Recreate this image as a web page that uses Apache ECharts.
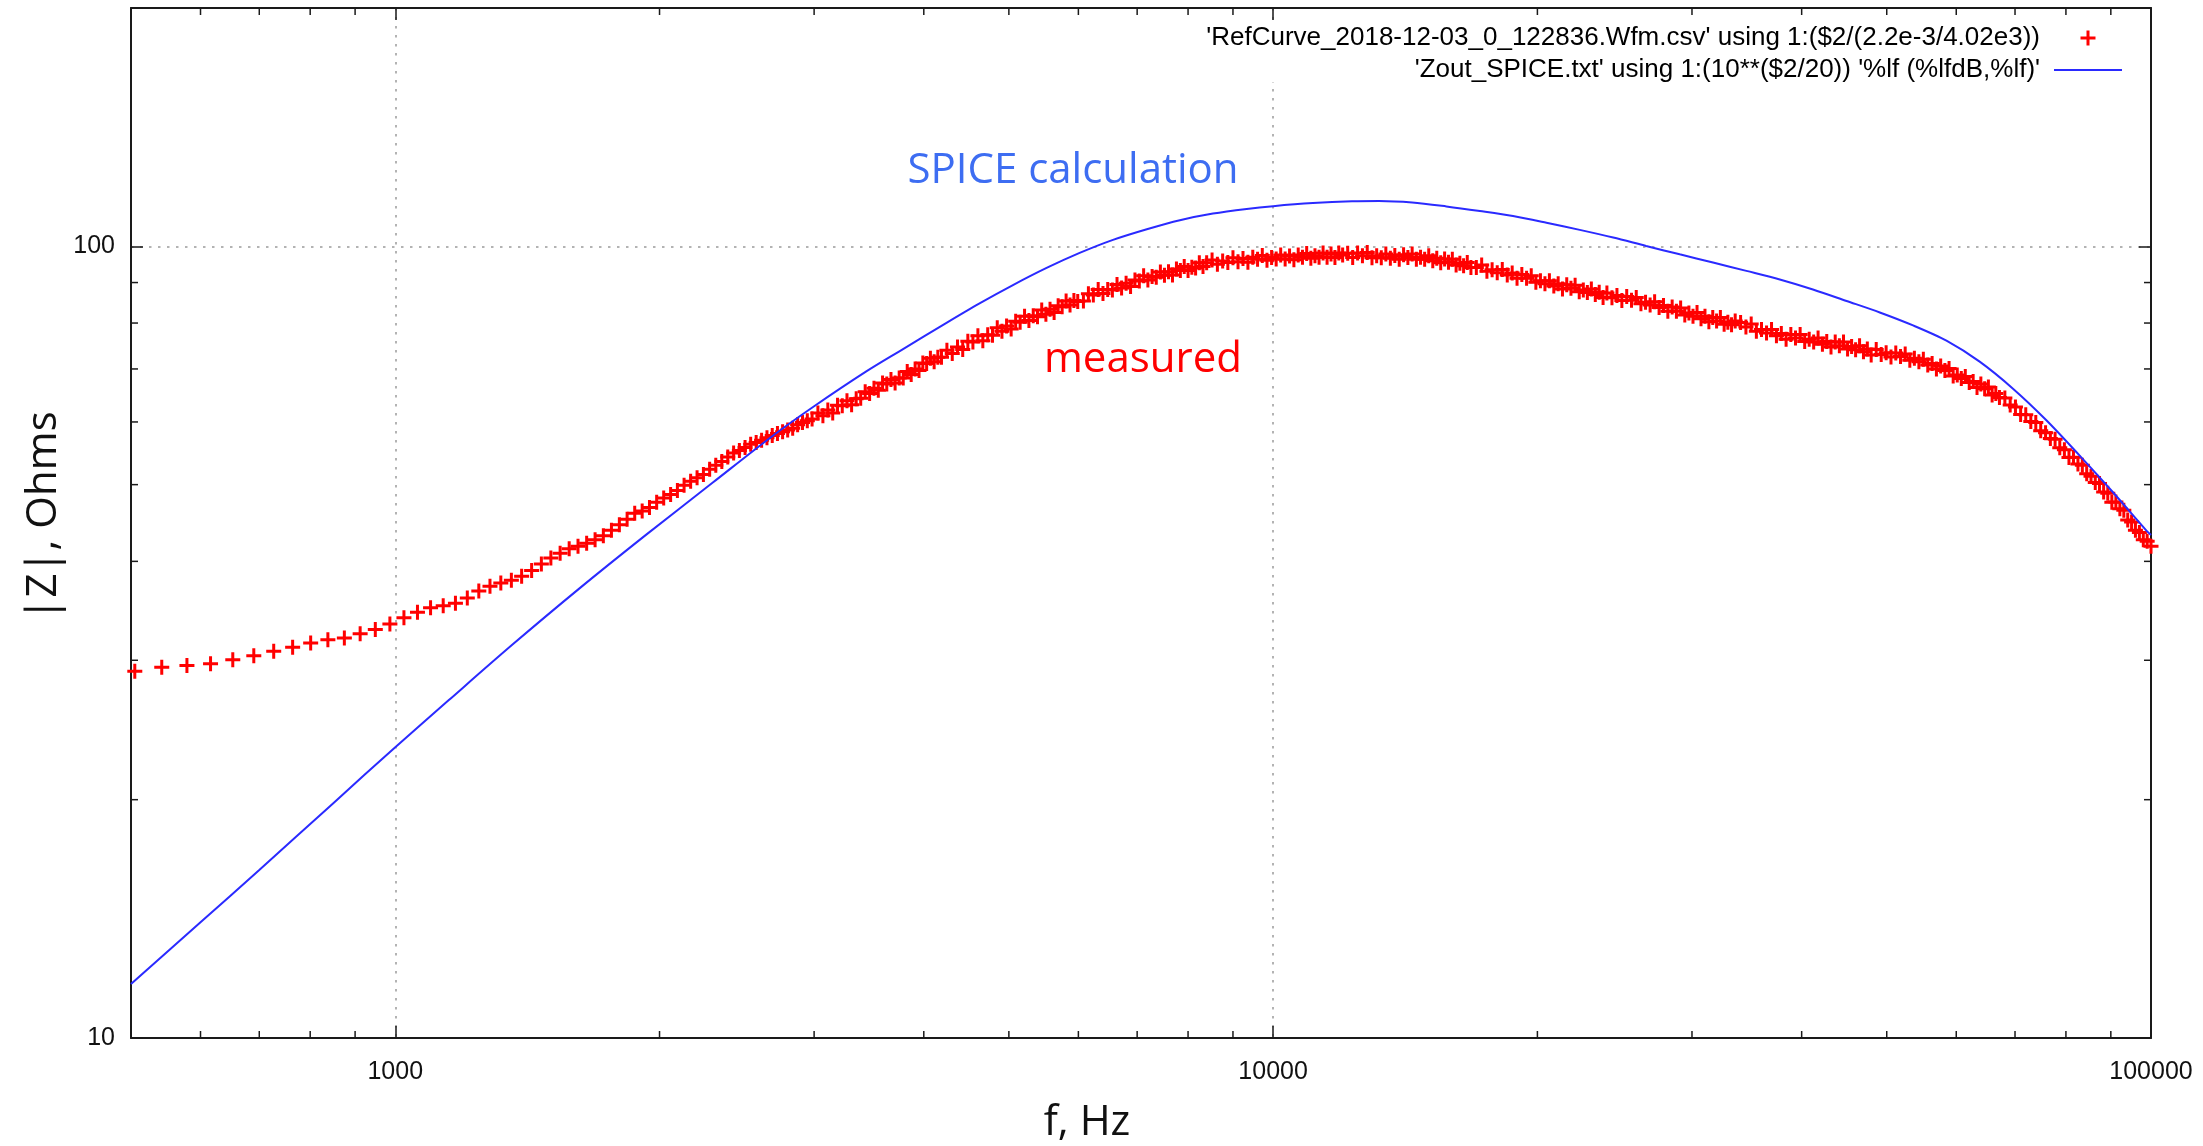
<!DOCTYPE html>
<html><head><meta charset="utf-8">
<script src="https://cdn.jsdelivr.net/npm/echarts@6/dist/echarts.min.js"></script>
<style>html,body{margin:0;padding:0;background:#fff}#c{width:2203px;height:1146px}</style>
</head><body><div id="c"></div>
<script>
const legendLabels = ["'RefCurve_2018-12-03_0_122836.Wfm.csv' using 1:($2/(2.2e-3/4.02e3))", "'Zout_SPICE.txt' using 1:(10**($2/20)) '%lf (%lfdB,%lf)'"];
const xTitle = 'f, Hz';
const yTitle = '|Z|, Ohms';
const notes = ['SPICE calculation', 'measured'];
const xMajorTicks = [1000, 10000, 100000];
const xMinorTicks = [600,700,800,900,2000,3000,4000,5000,6000,7000,8000,9000,20000,30000,40000,50000,60000,70000,80000,90000];
const yMajorTicks = [10, 100];
const yMinorTicks = [20,30,40,50,60,70,80,90];
const xRange = [500, 100000];
const yRange = [10, 200];

// measured |Z| (red crosses), [f Hz, Ohms]
const measured = [
[505,29.05],[542,29.4],[579,29.55],[616,29.7],[653,30.05],[690,30.4],[727,30.8],[764,31.15],[801,31.55],[838,31.85],
[875,32.0],[912,32.4],[949,32.8],[986,33.35],[1023,33.95],[1060,34.5],[1097,34.95],[1134,35.15],[1171,35.4],[1208,35.95],
[1245,36.7],[1282,37.2],[1319,37.55],[1356,37.85],[1393,38.3],[1430,38.95],[1467,39.7],[1504,40.4],[1541,40.95],[1578,41.5],
[1615,41.8],[1652,42.15],[1689,42.6],[1726,43.1],[1763,43.8],[1800,44.5],[1837,45.2],[1874,46.0],[1911,46.3],[1948,46.8],
[1985,47.5],[2022,48.1],[2059,48.6],[2096,49.15],[2133,49.9],[2170,50.5],[2207,51.0],[2244,51.5],[2281,52.3],[2318,52.9],
[2355,53.5],[2392,54.2],[2429,54.8],[2466,55.2],[2503,55.7],[2540,56.25],[2577,56.5],[2614,56.9],[2651,57.3],[2688,57.7],
[2725,58.0],[2762,58.3],[2799,58.6],[2836,58.9],[2873,59.5],[2910,59.9],[2947,60.2],[2984,60.5],
[3030,61.6],[3070,61.1],[3110,62.1],[3150,61.6],[3190,63.0],[3230,62.9],[3270,63.8],[3310,63.1],[3350,64.2],[3390,64.3],
[3430,65.5],[3470,65.2],[3510,66.2],[3550,65.8],[3590,67.2],[3630,67.0],[3670,67.9],[3710,67.2],[3750,68.2],[3790,68.2],
[3830,69.5],[3870,68.9],[3910,70.0],[3950,69.7],[3990,71.2],[4030,71.1],[4070,72.2],[4110,71.5],[4150,72.4],[4190,72.4],
[4250,73.9],[4310,73.2],[4370,74.6],[4430,74.1],[4490,75.9],[4550,75.7],[4610,77.1],[4670,76.0],[4730,77.3],[4790,77.2],
[4850,78.9],[4910,78.1],[4970,79.3],[5030,78.6],[5090,80.4],[5150,80.2],[5210,81.6],[5270,80.6],[5330,81.7],[5390,81.5],
[5450,83.1],[5510,82.1],[5570,83.3],[5630,82.5],[5690,84.1],[5750,83.9],[5810,85.3],[5870,84.3],[5930,85.4],[5990,85.2],
[6080,85.3],[6160,87.1],[6240,86.8],[6320,88.2],[6400,87.2],[6480,88.2],[6560,88.1],[6640,89.5],[6720,88.6],[6800,89.8],
[6880,89.0],[6960,90.7],[7040,90.4],[7120,91.8],[7200,90.7],[7280,91.6],[7360,91.4],[7440,92.8],[7520,91.9],[7600,92.9],
[7680,92.0],[7760,93.6],[7840,93.2],[7920,94.3],[8000,93.2],[8080,94.1],[8160,93.9],[8240,95.3],[8320,94.3],[8400,95.3],
[8520,96.1],[8640,94.9],[8760,95.8],[8880,95.4],[9000,96.7],[9120,95.6],[9240,96.5],[9360,95.5],[9480,96.9],[9600,96.3],
[9720,97.4],[9840,96.0],[9960,96.8],[10080,96.4],[10200,97.5],[10320,96.4],[10440,97.2],[10560,96.2],[10680,97.5],[10800,96.9],
[10920,97.9],[11040,96.6],[11160,97.3],[11280,96.9],[11400,98.1],[11520,96.9],[11640,97.8],[11760,96.8],[11880,98.1],[12000,97.5],
[12160,98.0],[12320,96.8],[12480,98.1],[12640,97.3],[12800,98.2],[12960,96.7],[13120,97.3],[13280,96.7],[13440,97.8],[13600,96.6],
[13760,97.4],[13920,96.3],[14080,97.6],[14240,96.8],[14400,97.8],[14560,96.3],[14720,96.9],[14880,96.3],[15040,97.3],[15200,95.9],
[15360,96.6],[15520,95.3],[15680,96.4],[15840,95.5],[16000,96.3],[16160,94.7],[16320,95.2],[16480,94.5],[16640,95.4],[16800,94.0],
[17040,94.0],[17280,94.7],[17520,93.0],[17760,93.4],[18000,92.6],[18240,93.5],[18480,92.0],[18720,92.5],[18960,91.1],[19200,92.1],
[19440,91.1],[19680,91.8],[19920,90.1],[20160,90.5],[20400,89.7],[20640,90.5],[20880,89.1],[21120,89.7],[21360,88.3],[21600,89.4],
[21840,88.5],[22080,89.3],[22320,87.6],[22560,88.1],[22800,87.4],[23040,88.3],[23280,86.9],[23520,87.5],[23760,86.2],[24000,87.3],
[24320,86.1],[24640,86.7],[24960,85.4],[25280,86.4],[25600,85.5],[25920,86.2],[26240,84.6],[26560,85.0],[26880,84.3],[27200,85.1],
[27520,83.7],[27840,84.2],[28160,82.8],[28480,83.8],[28800,82.8],[29120,83.6],[29440,81.9],[29760,82.4],[30080,81.6],[30400,82.5],
[30720,81.0],[31040,81.6],[31360,80.3],[31680,81.3],[32000,80.5],[32320,81.3],[32640,79.7],[32960,80.2],[33280,79.6],[33600,80.5],
[34080,80.1],[34560,79.1],[35040,79.8],[35520,78.1],[36000,78.5],[36480,77.7],[36960,78.5],[37440,77.1],[37920,77.6],[38400,76.3],
[38880,77.4],[39360,76.6],[39840,77.4],[40320,75.8],[40800,76.3],[41280,75.7],[41760,76.6],[42240,75.2],[42720,75.8],[43200,74.6],
[43680,75.7],[44160,74.9],[44640,75.7],[45120,74.2],[45600,74.7],[46080,74.0],[46560,74.9],[47040,73.6],[47520,74.2],[48000,72.9],
[48640,74.1],[49280,73.0],[49920,73.4],[50560,72.5],[51200,73.3],[51840,72.6],[52480,73.1],[53120,71.8],[53760,72.2],[54400,71.5],
[55040,72.0],[55680,70.8],[56320,71.1],[56960,70.0],[57600,70.6],[58240,69.7],[58880,70.1],[59520,68.6],[60160,68.8],[60800,68.1],
[61440,68.5],[62080,67.3],[62720,67.5],[63360,66.3],[64000,67.0],[64640,66.1],[65280,66.4],[65920,64.9],[66560,65.2],[67200,64.4],
[68160,64.35],[69120,63.05],[70080,62.65],[71040,61.3],[72000,61.25],[72960,60.1],[73920,59.9],[74880,58.5],[75840,58.15],[76800,57.2],
[77760,57.05],[78720,55.65],[79680,55.35],[80640,54.1],[81600,54.15],[82560,53.1],[83520,52.9],[84480,51.6],[85440,51.25],[86400,50.3],
[87360,50.15],[88320,48.95],[89280,48.75],[90240,47.5],[91200,47.55],[92160,46.6],[93120,46.4],[94080,45.1],[95040,44.85],[96000,43.8],
[97000,43.5],[98000,42.6],[99000,42.4],[100000,41.8]
];

// SPICE |Z| (blue line), [f Hz, Ohms]
const spice = [
[500,11.7],[600,14.0],[700,16.3],[850,19.8],[1000,23.3],[1150,26.7],[1360,31.4],[1620,36.95],[1930,43.2],[2300,50.3],
[2690,57.6],[3000,62.8],[3440,69.5],[3760,73.8],[4250,80.1],[4630,84.7],[5060,89.4],[5520,93.9],[6020,98.1],[6570,101.9],
[7180,105.1],[7830,107.9],[8540,110.0],[9330,111.5],[10000,112.4],[11100,113.4],[12300,114.0],[13200,114.1],[14400,113.6],[15750,112.3],
[17200,110.8],[18760,109.2],[20480,107.1],[22350,104.9],[24400,102.6],[26600,100.1],[29050,97.7],[31700,95.4],[34600,93.1],[37770,90.8],
[41200,88.2],[45000,85.3],[49100,82.5],[53570,79.45],[58480,76.0],[63800,71.5],[69630,66.1],[76000,60.3],[82940,54.4],[90500,48.9],
[98800,43.75],[100000,43.2]
];

const AX = '#1a1a1a';
const tickFont = "'Liberation Sans', Arial, sans-serif";
const noteFont = "'Open Sans', 'Noto Sans', sans-serif";
const isIn = (v, arr) => arr.some(t => Math.abs(v - t) / t < 1e-6);
const plusPath = 'path://M6,0H9V15H6ZM0,6H15V9H0Z';

const chart = echarts.init(document.getElementById('c'), null, {renderer: 'canvas'});
const axisBase = (extra) => Object.assign({
  type: 'log', logBase: 10,
  axisLine: {show: true, onZero: false, lineStyle: {color: AX, width: 2}},
  axisTick: {show: true, inside: true, length: 12, lineStyle: {color: AX, width: 1.5}},
  minorTick: {show: false}, minorSplitLine: {show: false}
}, extra);

const option = {
  animation: false,
  backgroundColor: '#ffffff',
  grid: {left: 131, right: 52, top: 8, bottom: 108, containLabel: false},
  xAxis: [
    axisBase({min: xRange[0], max: xRange[1], position: 'bottom',
      axisLabel: {show: true, margin: 22, fontSize: 25, fontFamily: tickFont, color: '#111',
        formatter: v => isIn(v, xMajorTicks) ? String(Math.round(v)) : ''},
      splitLine: {show: true, lineStyle: {color: '#9a9a9a', width: 1.5, type: [2.5, 6.5]}}}),
    axisBase({min: xRange[0], max: xRange[1], position: 'top',
      axisLabel: {show: false}, splitLine: {show: false}})
  ],
  yAxis: [
    axisBase({min: yRange[0], max: yRange[1], position: 'left',
      axisLabel: {show: true, margin: 16, fontSize: 25, fontFamily: tickFont, color: '#111',
        formatter: v => isIn(v, yMajorTicks) ? String(Math.round(v)) : ''},
      splitLine: {show: true, lineStyle: {color: '#9a9a9a', width: 1.5, type: [2.5, 6.5]}}}),
    axisBase({min: yRange[0], max: yRange[1], position: 'right',
      axisLabel: {show: false}, splitLine: {show: false}})
  ],
  series: [
    {name: legendLabels[0], type: 'scatter', data: measured, xAxisIndex: 0, yAxisIndex: 0,
      symbol: plusPath, symbolSize: 15, itemStyle: {color: '#ff0000', opacity: 1}, clip: false, z: 2, silent: true},
    {name: legendLabels[1], type: 'line', data: spice, xAxisIndex: 0, yAxisIndex: 0,
      showSymbol: false, symbol: 'none', smooth: 0.3, lineStyle: {color: '#2a2aff', width: 2}, z: 3, silent: true}
  ]
};
chart.setOption(option);

const px = v => chart.convertToPixel({xAxisIndex: 0}, v);
const py = v => chart.convertToPixel({yAxisIndex: 0}, v);
const L = px(xRange[0]), R = px(xRange[1]), B = py(yRange[0]), T = py(yRange[1]);
const els = [];
const tick = (x1, y1, x2, y2) => els.push({type: 'line', shape: {x1, y1, x2, y2}, style: {stroke: AX, lineWidth: 1.5}, z: 10, silent: true});
xMinorTicks.forEach(v => { const x = px(v); tick(x, B, x, B - 7); tick(x, T, x, T + 7); });
yMinorTicks.forEach(v => { const y = py(v); tick(L, y, L + 7, y); tick(R, y, R - 7, y); });

// key box (opaque)
els.push({type: 'rect', shape: {x: 1190, y: T + 14, width: R - 1196, height: 82 - T - 14}, style: {fill: '#ffffff'}, z: 1, silent: true});
const keyText = (s, y) => els.push({type: 'text', x: 2040, y, z: 11, silent: true,
  style: {text: s, fontSize: 26, fontFamily: tickFont, fill: '#000', align: 'right', verticalAlign: 'middle', textAlign: 'right', textVerticalAlign: 'middle'}});
keyText(legendLabels[0], 38);
keyText(legendLabels[1], 70);
els.push({type: 'rect', shape: {x: 2088 - 7.5, y: 38 - 1.5, width: 15, height: 3}, style: {fill: '#ff0000'}, z: 11, silent: true});
els.push({type: 'rect', shape: {x: 2088 - 1.5, y: 38 - 7.5, width: 3, height: 15}, style: {fill: '#ff0000'}, z: 11, silent: true});
els.push({type: 'line', shape: {x1: 2054, y1: 70, x2: 2122, y2: 70}, style: {stroke: '#2a2aff', lineWidth: 2}, z: 11, silent: true});

// annotations and axis titles
const txt = (s, x, y, color, rot) => els.push({type: 'text', x, y, rotation: rot || 0, z: 12, silent: true,
  style: {text: s, fontSize: 42, fontFamily: noteFont, fill: color, align: 'center', verticalAlign: 'middle', textAlign: 'center', textVerticalAlign: 'middle'}});
txt(notes[0], 1073, 171, '#3d6df2');
txt(notes[1], 1143, 360, '#ff0000');
txt(xTitle, 1087, 1123, '#111');
txt(yTitle, 44, 516, '#111', Math.PI / 2);

chart.setOption({graphic: {elements: els}});
</script>
</body></html>
